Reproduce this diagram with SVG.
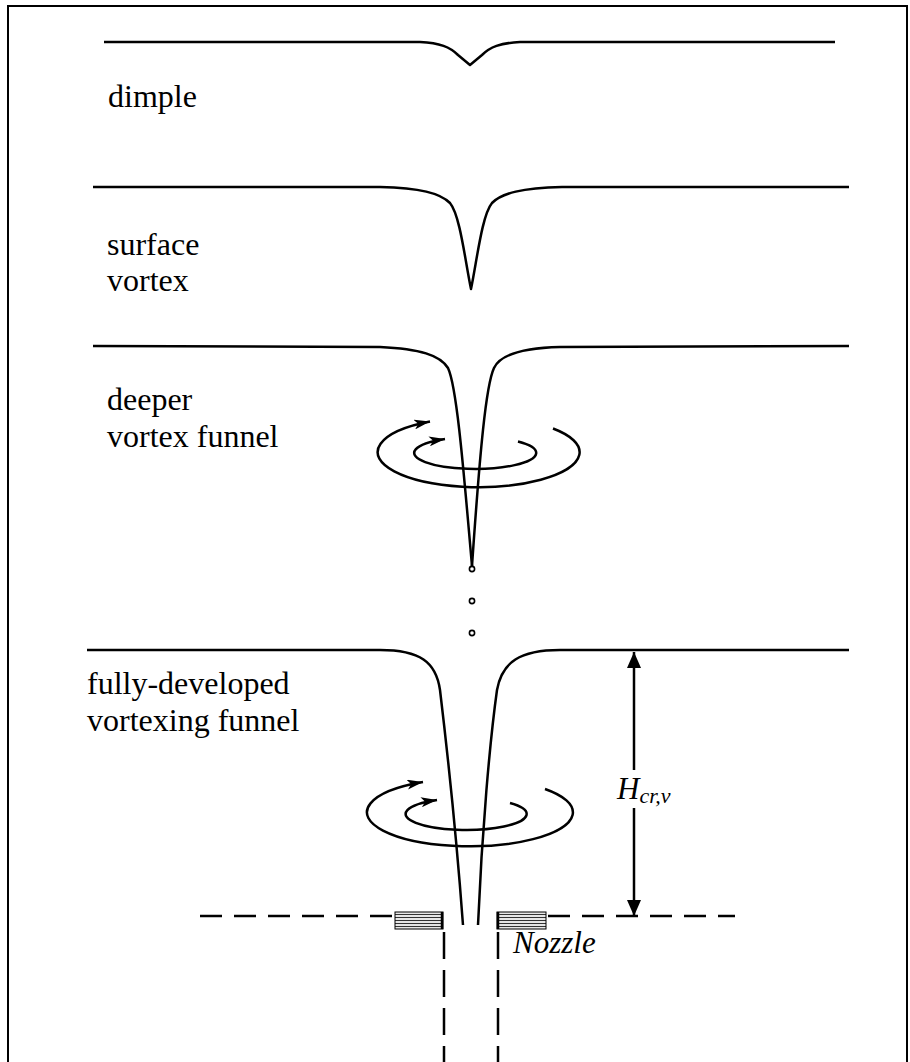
<svg xmlns="http://www.w3.org/2000/svg" width="910" height="1062" viewBox="0 0 910 1062">
  <style>
    .ln { fill: none; stroke: #000; stroke-width: 2.5; stroke-linejoin: round; stroke-linecap: butt; }
    .swirl { fill: none; stroke: #000; stroke-width: 2.5; marker-end: url(#barb); }
    .dot { fill: #fff; stroke: #000; stroke-width: 1.6; }
    .lbl { font-family: "Liberation Serif", "Times New Roman", serif; font-size: 32px; fill: #000; }
    .it { font-family: "Liberation Serif", "Times New Roman", serif; font-style: italic; font-size: 31px; fill: #000; }
    .dash { fill: none; stroke: #000; stroke-width: 2.5; stroke-dasharray: 22 12; }
    .vdash { fill: none; stroke: #000; stroke-width: 2.5; stroke-dasharray: 27 11; }
    .box { fill: url(#hatch); stroke: #000; stroke-width: 1; }
  </style>
  <defs>
    <marker id="barb" viewBox="0 0 16 10" refX="16" refY="5" markerWidth="16" markerHeight="10" markerUnits="userSpaceOnUse" orient="auto">
      <path d="M0,0 L16,5 L0,10 L4,5 z" fill="#000"/>
    </marker>
    <marker id="dimhead" viewBox="0 0 16 14" refX="16" refY="7" markerWidth="16" markerHeight="14" markerUnits="userSpaceOnUse" orient="auto">
      <path d="M0,0 L16,7 L0,14 z" fill="#000"/>
    </marker>
    <pattern id="hatch" width="4" height="3" patternUnits="userSpaceOnUse">
      <rect width="4" height="3" fill="#e6e6e6"/>
      <rect y="2" width="4" height="1" fill="#333"/>
    </pattern>
  </defs>

  <!-- outer frame -->
  <g id="frame">
    <rect x="8" y="6" width="899" height="1070" fill="none" stroke="#000" stroke-width="2"/>
  </g>

  <!-- stage 1: dimple -->
  <g id="stage-dimple">
    <path class="ln" d="M104 42 L420 42 C440 43 450 47 458 55 L470 65 L482 55 C490 47 500 43 520 42 L835 42"/>
    <text class="lbl" x="108" y="107">dimple</text>
  </g>

  <!-- stage 2: surface vortex -->
  <g id="stage-surface">
    <path class="ln" d="M93 187 L380 187 C420 188 440 193 450 203 C460 215 465 260 471 289 C477 260 482 215 492 203 C502 193 522 188 562 187 L849 187"/>
    <text class="lbl" x="107" y="255">surface</text>
    <text class="lbl" x="107" y="291">vortex</text>
  </g>

  <!-- stage 3: deeper vortex funnel -->
  <g id="stage-deeper">
    <path class="ln" d="M93 346 L380 347 C420 349 440 355 448 368 C456 385 462 450 472 566"/>
    <path class="ln" d="M849 346 L560 347 C520 348 500 355 494 368 C486 385 480 450 472 566"/>
    <path class="swirl" d="M553 428.5 A101 35 0 1 1 430 421.5"/>
    <path class="swirl" d="M518 441.5 A61 16 0 1 1 445 439"/>
    <circle class="dot" cx="472" cy="569" r="2.6"/>
    <circle class="dot" cx="472" cy="601" r="2.6"/>
    <circle class="dot" cx="472" cy="633" r="2.6"/>
    <text class="lbl" x="107" y="410">deeper</text>
    <text class="lbl" x="107" y="447">vortex funnel</text>
  </g>

  <!-- stage 4: fully-developed vortexing funnel -->
  <g id="stage-full">
    <path class="ln" d="M87 650 L380 650 C420 650 436 662 440 690 C446 740 456 830 463 925"/>
    <path class="ln" d="M849 650 L560 650 C520 650 502 662 497 690 C490 740 482 830 478 925"/>
    <path class="swirl" d="M545 789 A103 34 0 1 1 423 782"/>
    <path class="swirl" d="M510 803 A60.5 16 0 1 1 437 800"/>
    <text class="lbl" x="87" y="694">fully-developed</text>
    <text class="lbl" x="87" y="731">vortexing funnel</text>
  </g>

  <!-- intake plane and nozzle -->
  <g id="nozzle">
    <path class="dash" d="M200 916 L395 916"/>
    <path class="dash" d="M548 916 L735 916"/>
    <rect class="box" x="395" y="912" width="48" height="17"/>
    <rect class="box" x="497" y="912" width="49" height="17"/>
    <path class="ln" d="M442 912 L442 929"/>
    <path class="ln" d="M498 912 L498 929"/>
    <path class="vdash" d="M444 932 L444 1062"/>
    <path class="vdash" d="M498 932 L498 1062"/>
    <text class="it" x="513" y="953">Nozzle</text>
  </g>

  <!-- critical submergence dimension -->
  <g id="connectors">
    <path class="ln" d="M634 770 L634 652" marker-end="url(#dimhead)"/>
    <path class="ln" d="M634 808 L634 916" marker-end="url(#dimhead)"/>
  </g>
  <g id="dim-label">
    <text class="it" x="617" y="799">H<tspan font-size="22" dy="4">cr,v</tspan></text>
  </g>
</svg>
